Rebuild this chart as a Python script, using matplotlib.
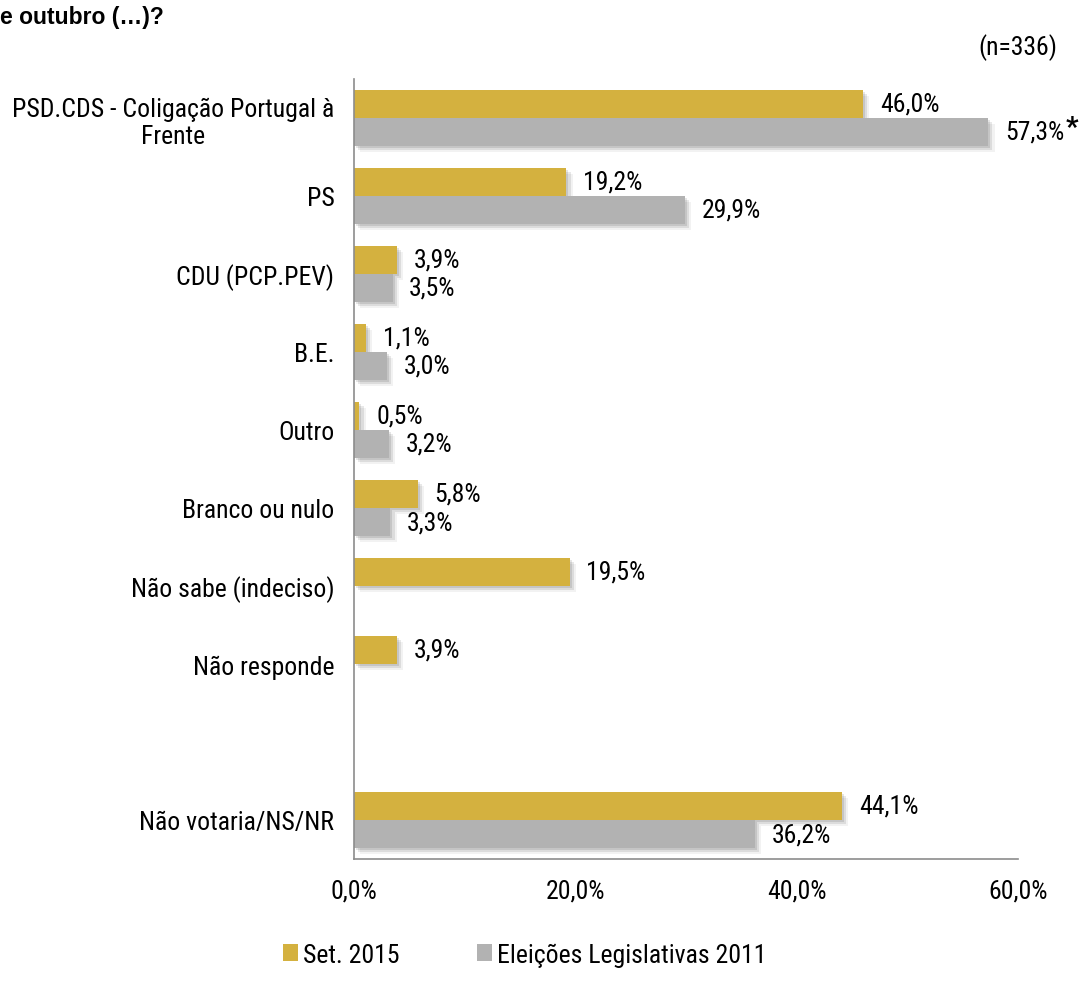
import matplotlib
matplotlib.use("Agg")
import matplotlib.pyplot as plt
import matplotlib.patheffects as pe
import numpy as np

plt.rcParams['font.family'] = ['Roboto Condensed', 'Liberation Sans', 'DejaVu Sans']

categories = ["PSD.CDS - Coligação Portugal à\nFrente", "PS", "CDU (PCP.PEV)", "B.E.", "Outro",
              "Branco ou nulo", "Não sabe (indeciso)", "Não responde", "", "Não votaria/NS/NR"]
set2015 = [46.0, 19.2, 3.9, 1.1, 0.5, 5.8, 19.5, 3.9, np.nan, 44.1]
leg2011 = [57.3, 29.9, 3.5, 3.0, 3.2, 3.3, np.nan, np.nan, np.nan, 36.2]
series_names = ["Set. 2015", "Eleições Legislativas 2011"]
xticks = [0, 20, 40, 60]
xticklabels = ["0,0%", "20,0%", "40,0%", "60,0%"]

gold = "#D4B13F"
grey = "#B2B2B2"
FS = 18.5

fig = plt.figure(figsize=(10.82, 9.87), dpi=100)
ax = fig.add_axes([0.327, 0.1287, 0.614, 0.7903])

n = len(categories)
y = np.arange(n)
h = 0.36
shadow = [pe.SimplePatchShadow(offset=(1.5, -1.5), shadow_rgbFace="#000000", alpha=0.10),
          pe.SimplePatchShadow(offset=(3, -3), shadow_rgbFace="#000000", alpha=0.09),
          pe.SimplePatchShadow(offset=(4.5, -4.5), shadow_rgbFace="#000000", alpha=0.05),
          pe.Normal()]

b1 = ax.barh(y - h / 2, set2015, height=h, color=gold, label=series_names[0], path_effects=shadow)
b2 = ax.barh(y + h / 2, leg2011, height=h, color=grey, label=series_names[1], path_effects=shadow)

def fmt(v):
    return f"{v:.1f}%".replace(".", ",")

for yi, v in zip(y - h / 2, set2015):
    if not np.isnan(v):
        ax.annotate(fmt(v), (v, yi), xytext=(12, 0), textcoords="offset points",
                    va="center", ha="left", fontsize=FS)
for i, (yi, v) in enumerate(zip(y + h / 2, leg2011)):
    if not np.isnan(v):
        t = ax.annotate(fmt(v), (v, yi), xytext=(12, 0), textcoords="offset points",
                        va="center", ha="left", fontsize=FS)
        if i == 0:
            ax.annotate("*", xy=(1, 0.5), xycoords=t, xytext=(1, 3), textcoords="offset points",
                        va="center", ha="left", fontsize=20, fontweight="bold")

ax.set_ylim(n - 0.5, -0.5)
ax.set_xlim(0, 60)
ax.set_yticks(y)
ax.set_yticklabels(categories, fontsize=FS, multialignment="center")
ax.set_xticks(xticks)
ax.set_xticklabels(xticklabels, fontsize=FS)
ax.tick_params(axis="both", length=0)
ax.tick_params(axis="y", pad=14)
ax.tick_params(axis="x", pad=14)
for s in ["top", "right"]:
    ax.spines[s].set_visible(False)
for s in ["left", "bottom"]:
    ax.spines[s].set_color("#8C8C8C")
    ax.spines[s].set_linewidth(1.2)

fig.text(0.0, 0.982, "e outubro (…)?", fontsize=16.5, fontweight="bold", ha="left", va="center",
         family=["Liberation Sans", "DejaVu Sans"])
fig.text(0.977, 0.952, "(n=336)", fontsize=FS, ha="right", va="center")

leg = fig.legend(handles=[b1, b2], labels=series_names, loc="center", bbox_to_anchor=(0.485, 0.032),
                 ncol=2, frameon=False, fontsize=FS, handlelength=0.6, handleheight=0.6,
                 handletextpad=0.2, columnspacing=3.0)
for hnd in leg.legend_handles:
    hnd.set_path_effects([])

fig.savefig("out.png", dpi=100)
